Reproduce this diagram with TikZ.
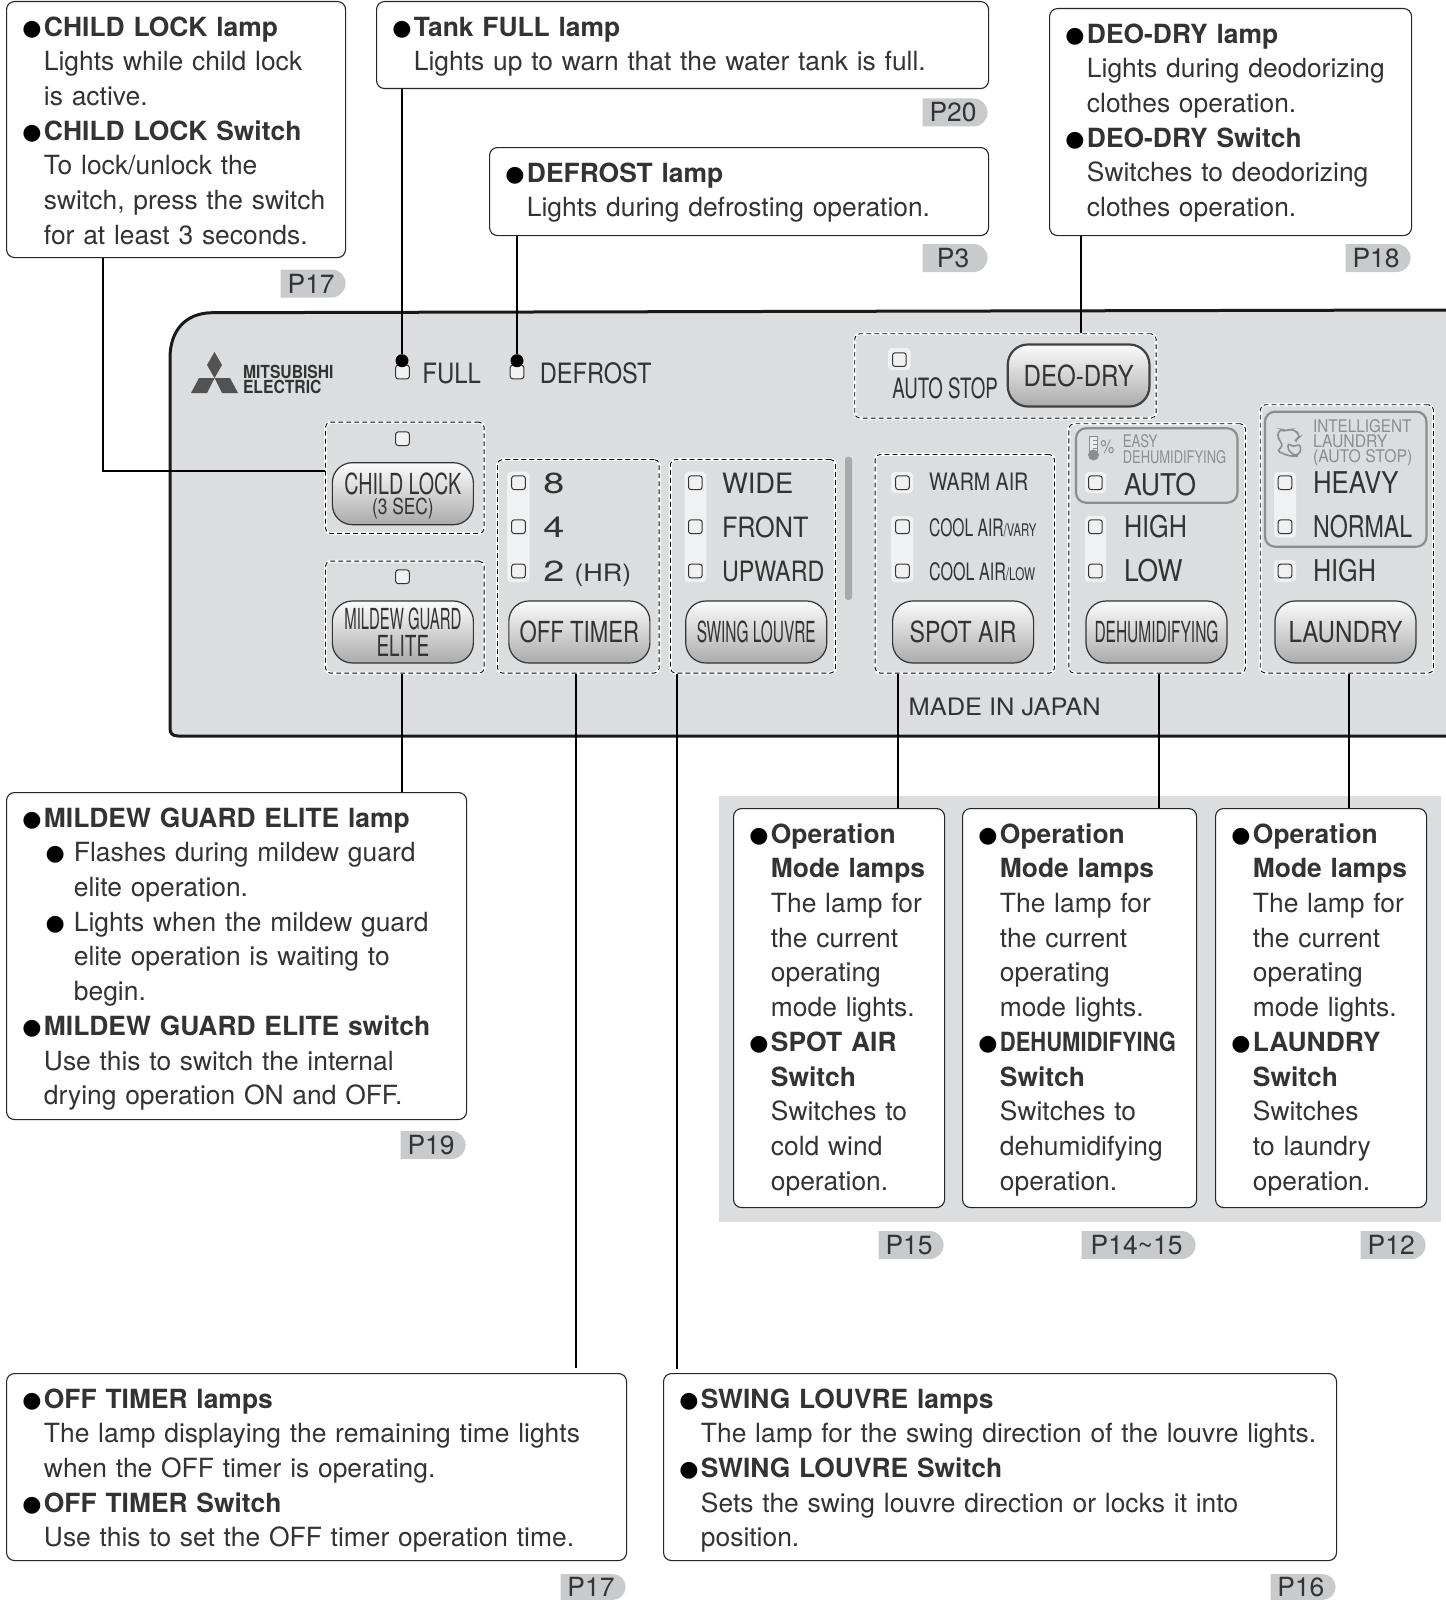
\documentclass[tikz,border=0pt]{standalone}
\usepackage{fontspec}
\setmainfont{TeX Gyre Heros}
\newfontfamily\symfont{DejaVu Sans}
\usetikzlibrary{shapes.misc}

\definecolor{panelgray}{HTML}{DCDDDE}
\definecolor{inktext}{HTML}{333333}
\definecolor{framegray}{HTML}{8C8D8F}
\definecolor{tabgray}{HTML}{C9CACC}
\definecolor{stripgray}{HTML}{F0F1F2}
\definecolor{bargray}{HTML}{A8A9AB}

\newcommand{\callfont}{\fontsize{13.2pt}{17.35pt}\selectfont}
\newcommand{\sizedfont}[1]{\fontsize{#1pt}{#1pt}\selectfont}
\newcommand{\fitw}[2]{\resizebox{\dimexpr#1pt/2\relax}{\height}{#2}}
\newcommand{\blob}{{\fontsize{11pt}{11pt}\symfont\raisebox{.5pt}{\textcolor{black}{●}}}}
\newcommand{\headitem}[1]{\leavevmode\llap{\blob\kern1.2pt}\textbf{#1}}
\newcommand{\subpoint}{\hspace*{15pt}\llap{\blob\kern4.6pt}}
\newcommand{\subcont}{\hspace*{15pt}}

\begin{document}
\begin{tikzpicture}[x=.5pt,y=-.5pt,
            callout/.style 2 args={draw=black!85,fill=white,rounded corners=4pt,line width=.55pt,
                anchor=north west,inner xsep=0pt,inner ysep=0pt,align=left,text=inktext,
                text width=#1*.5pt,text height=17.3pt,text depth=#2*.5pt-17.3pt,font=\callfont,
                execute at begin node={\leftskip=18.7pt\relax}},
            pagetab/.style={rounded rectangle,rounded rectangle left arc=none,fill=tabgray,
                text=inktext,inner sep=0pt,minimum height=14pt,minimum width=32.5pt,
                anchor=east,font=\callfont},
            groupbox/.style 2 args={draw=black,dash pattern=on 2.4pt off 1.6pt,line width=.45pt,
                rounded corners=2.5pt,anchor=north west,inner sep=0pt,
                minimum width=#1*.5pt,minimum height=#2*.5pt,
                preaction={draw=white,solid,line width=1.4pt}},
            button/.style={draw=black!80,line width=.6pt,rounded corners=10pt,inner sep=0pt,
                top color=white!90!panelgray,bottom color=black!33,align=center,text=inktext,
                minimum width=70.5pt,minimum height=31pt,font=\sizedfont{14.5}},
            led/.style={draw=inktext,fill=panelgray!40,line width=.5pt,rounded corners=1.2pt,
                inner sep=0pt,minimum width=6.8pt,minimum height=6.8pt},
            strip/.style={fill=stripgray,rounded corners=2pt},
            frame/.style={draw=framegray,line width=1.1pt,rounded corners=5pt},
            caption/.style={anchor=base west,inner sep=0pt,text=inktext,font=\sizedfont{14}},
            faint/.style={anchor=base west,inner sep=0pt,text=framegray,font=\sizedfont{8.7}},
            leader/.style={draw=black,line width=.55pt,preaction={draw=white,line width=1.4pt}}]
    \useasboundingbox (0,0) rectangle (1445,1600);

    % panel and the band behind the mode boxes
    \draw[fill=panelgray,draw=black!90,line width=1.5pt] (1447,310) -- (212,312.7)
        .. controls (186,313) and (170,330) .. (170,358) -- (170,728)
        .. controls (170,733) and (172,736) .. (178,736) -- (1447,736);
    \fill[panelgray] (719,796) rectangle (1441,1221.5);
    \fill[rounded corners=1.5pt,bargray] (845,456.7) rectangle (852,600);

    % logo
    \fill[inktext!85] (214.5,352) -- (222,365) -- (214.5,378) -- (207,365) -- cycle;
    \fill[inktext!85] (214.5,378) -- (199,378) -- (191,393) -- (207,393) -- cycle;
    \fill[inktext!85] (214.5,378) -- (230,378) -- (238,393) -- (222,393) -- cycle;
    \node[caption,font=\sizedfont{9}\bfseries] (logotop) at (242.6,378) {\fitw{90.5}{MITSUBISHI}};
    \node[caption,font=\sizedfont{9}\bfseries] (logobot) at (242.6,393) {\fitw{78.5}{ELECTRIC}};

    % light patches under the lamps
    \fill[strip] (507,471.7) rectangle (529.6,582);
    \fill[strip] (684.5,471.7) rectangle (706.4,582);
    \fill[strip] (888,348) rectangle (910.6,370);
    \fill[strip] (891,472) rectangle (913.3,493);
    \fill[strip] (891,516) rectangle (913.3,582);
    \fill[strip] (1085,472) rectangle (1106.2,493);
    \fill[strip] (1085,516) rectangle (1106.2,582);
    \fill[strip] (1274,472) rectangle (1296,537.7);
    \fill[strip] (1274,560) rectangle (1296,582);

    % dashed groups
    \node[groupbox={158.7}{111.3}] (childgroup) at (325,421.7) {};
    \node[groupbox={158.7}{112}] (mildewgroup) at (325,560.7) {};
    \node[groupbox={161.7}{213.7}] (timergroup) at (497,459) {};
    \node[groupbox={165}{213.7}] (louvregroup) at (670,459) {};
    \node[groupbox={301.3}{84.4}] (deogroup) at (854.3,333.3) {};
    \node[groupbox={179.3}{218.7}] (spotgroup) at (874.7,454) {};
    \node[groupbox={176.6}{249.4}] (dehumgroup) at (1068.4,423.3) {};
    \node[groupbox={173.2}{268.4}] (laundrygroup) at (1259.8,404.3) {};

    % grey frames
    \draw[frame] (1076,428.3) rectangle (1237.4,502.7);
    \draw[frame] (1265,411.7) rectangle (1426.4,546.7);

    % lamps
    \node[led] (fulllamp) at (402.5,372) {};
    \node[led] (defrostlamp) at (517,372) {};
    \node[led] (childlamp) at (402.5,438.7) {};
    \node[led] (mildewlamp) at (402.5,576.7) {};
    \node[led] (deolamp) at (899.4,359.6) {};
    \foreach \i/\y in {1/482.7,2/526.7,3/571}{
        \node[led] (timer\i) at (518.5,\y) {};
        \node[led] (louvre\i) at (695.3,\y) {};
        \node[led] (spot\i) at (902.5,\y) {};
        \node[led] (dehum\i) at (1095.4,\y) {};
        \node[led] (laundry\i) at (1285,\y) {};
    }
    \node[circle,fill=black,inner sep=0pt,minimum size=6.5pt] (fulldot) at (402,360.7) {};
    \node[circle,fill=black,inner sep=0pt,minimum size=6.5pt] (defrostdot) at (517,360.7) {};

    % panel captions
    \node[caption] (fullcap) at (422,383) {\fitw{58.5}{FULL}};
    \node[caption] (defrostcap) at (539.5,383) {\fitw{111.6}{DEFROST}};
    \node[caption,font=\sizedfont{14.5}] (hr8) at (543,493) {\fitw{21}{8}};
    \node[caption,font=\sizedfont{14.5}] (hr4) at (543,537) {\fitw{21}{4}};
    \node[caption,font=\sizedfont{14.5}] (hr2) at (543,581) {\fitw{21}{2}};
    \node[caption,font=\sizedfont{12}] (hrunit) at (574,581) {\fitw{57}{(HR)}};
    \node[caption] (widecap) at (721.6,493) {\fitw{71.4}{WIDE}};
    \node[caption] (frontcap) at (721.6,537) {\fitw{86.4}{FRONT}};
    \node[caption] (upcap) at (721.6,581) {\fitw{102.4}{UPWARD}};
    \node[caption] (autostop) at (892,398) {\fitw{105.4}{AUTO STOP}};
    \node[caption,font=\sizedfont{12}] (warmcap) at (928.7,490.7) {\fitw{99.3}{WARM AIR}};
    \node[caption,font=\sizedfont{12}] (varycap) at (928.7,536) {\fitw{107.3}{COOL AIR{\sizedfont{8.7}/VARY}}};
    \node[caption,font=\sizedfont{12}] (lowcap) at (928.7,580.7) {\fitw{106}{COOL AIR{\sizedfont{8.7}/LOW}}};
    \node[caption,font=\sizedfont{15}] (autocap) at (1123.6,495) {\fitw{72}{AUTO}};
    \node[caption,font=\sizedfont{15}] (highcap) at (1123.6,537) {\fitw{63}{HIGH}};
    \node[caption,font=\sizedfont{15}] (lowrate) at (1123.6,581) {\fitw{58.5}{LOW}};
    \node[caption,font=\sizedfont{15}] (heavycap) at (1312.6,493) {\fitw{85.4}{HEAVY}};
    \node[caption,font=\sizedfont{15}] (normalcap) at (1312.6,537) {\fitw{99.2}{NORMAL}};
    \node[caption,font=\sizedfont{15}] (highlaundry) at (1312.6,581) {\fitw{63}{HIGH}};
    \node[caption,font=\sizedfont{12}] (madein) at (908.3,715) {\fitw{192}{MADE IN JAPAN}};
    \node[faint] (easycap) at (1122.4,447.7) {\fitw{34.6}{EASY}};
    \node[faint] (easydehum) at (1122.4,463) {\fitw{103.4}{DEHUMIDIFYING}};
    \node[faint] (intelcap) at (1312.6,432) {\fitw{98.4}{INTELLIGENT}};
    \node[faint] (laundrycap) at (1312.6,447.5) {\fitw{74.4}{LAUNDRY}};
    \node[faint] (autostopcap) at (1312.6,462.5) {\fitw{99.4}{(AUTO STOP)}};
    \node[faint,font=\sizedfont{9.5}] (percent) at (1100,453) {\fitw{14}{\%}};

    % thermometer and shirt
    \draw[framegray,line width=.5pt,fill=white!40!panelgray] (1089.5,436) rectangle (1097.5,452);
    \draw[framegray,line width=.4pt] (1093,440) -- (1097,440) (1093,444) -- (1097,444) (1093,448) -- (1097,448);
    \fill[framegray] (1093.5,455) circle (5.5);
    \draw[framegray,line width=.8pt,rounded corners=1.5pt] (1280,441) -- (1277,435) -- (1281,429)
        -- (1286,431) -- (1291,429) -- (1297,432) -- (1300,437) -- (1296,439) -- (1296,442)
        (1280,441) -- (1283,446) -- (1277,451) -- (1289,456) -- (1298,456)
        (1288,443) -- (1293,447) -- (1300,444) -- (1301,452) -- (1295,456) -- (1288,450) -- cycle;

    % buttons
    \node[button] (childbtn) at (402.85,493.7) {};
    \node[caption,anchor=base,font=\sizedfont{14.5}] (childcap) at (402.85,494) {\fitw{117}{CHILD LOCK}};
    \node[caption,anchor=base,font=\sizedfont{11}] (secondscap) at (402.85,514) {\fitw{61.6}{(3 SEC)}};
    \node[button] (mildewbtn) at (402.85,632) {\fitw{117}{MILDEW GUARD}\\[-1pt]\fitw{52.7}{ELITE}};
    \node[button] (timerbtn) at (579.35,632) {\fitw{119.6}{OFF TIMER}};
    \node[button] (louvrebtn) at (756.25,632) {\fitw{119}{SWING LOUVRE}};
    \node[button,draw=black!75,line width=1.1pt,minimum width=70.8pt] (deobtn) at (1078.6,375.5) {\fitw{110}{DEO-DRY}};
    \node[button] (spotbtn) at (963.1,632) {\fitw{107}{SPOT AIR}};
    \node[button] (dehumbtn) at (1156.5,632) {\fitw{124}{DEHUMIDIFYING}};
    \node[button] (laundrybtn) at (1345.5,632) {\fitw{114}{LAUNDRY}};

    % callouts
    \node[callout={339}{256}] (childbox) at (6,1) {\headitem{CHILD LOCK lamp}\\
        Lights while child lock\\
        is active.\\
        \headitem{CHILD LOCK Switch}\\
        To lock/unlock the\\
        switch, press the switch\\
        for at least 3 seconds.};
    \node[callout={612}{87}] (tankbox) at (376,1) {\headitem{Tank FULL lamp}\\
        Lights up to warn that the water tank is full.};
    \node[callout={499}{88}] (defrostbox) at (489,147) {\headitem{DEFROST lamp}\\
        Lights during defrosting operation.};
    \node[callout={362}{227}] (deobox) at (1049,8) {\headitem{DEO-DRY lamp}\\
        Lights during deodorizing\\
        clothes operation.\\
        \headitem{DEO-DRY Switch}\\
        Switches to deodorizing\\
        clothes operation.};
    \node[callout={460}{327}] (mildewbox) at (6,792) {\headitem{MILDEW GUARD ELITE lamp}\\
        \subpoint Flashes during mildew guard\\
        \subcont elite operation.\\
        \subpoint Lights when the mildew guard\\
        \subcont elite operation is waiting to\\
        \subcont begin.\\
        \headitem{MILDEW GUARD ELITE switch}\\
        Use this to switch the internal\\
        drying operation ON and OFF.};
    \node[callout={620}{187}] (timerbox) at (6,1373) {\headitem{OFF TIMER lamps}\\
        The lamp displaying the remaining time lights\\
        when the OFF timer is operating.\\
        \headitem{OFF TIMER Switch}\\
        Use this to set the OFF timer operation time.};
    \node[callout={673}{187}] (louvrebox) at (663,1373) {\headitem{SWING LOUVRE lamps}\\
        The lamp for the swing direction of the louvre lights.\\
        \headitem{SWING LOUVRE Switch}\\
        Sets the swing louvre direction or locks it into\\
        position.};
    \node[callout={211}{399}] (spotbox) at (733,808) {\headitem{Operation}\\
        \textbf{Mode lamps}\\
        The lamp for\\
        the current\\
        operating\\
        mode lights.\\
        \headitem{SPOT AIR}\\
        \textbf{Switch}\\
        Switches to\\
        cold wind\\
        operation.};
    \node[callout={234}{399}] (dehumbox) at (962,808) {\headitem{Operation}\\
        \textbf{Mode lamps}\\
        The lamp for\\
        the current\\
        operating\\
        mode lights.\\
        \headitem{\fitw{176}{DEHUMIDIFYING}}\\
        \textbf{Switch}\\
        Switches to\\
        dehumidifying\\
        operation.};
    \node[callout={211}{399}] (laundrybox) at (1215,808) {\headitem{Operation}\\
        \textbf{Mode lamps}\\
        The lamp for\\
        the current\\
        operating\\
        mode lights.\\
        \headitem{LAUNDRY}\\
        \textbf{Switch}\\
        Switches\\
        to laundry\\
        operation.};

    % page tabs
    \node[pagetab] (tabchild) at (346,283.5) {P17};
    \node[pagetab] (tabtank) at (988,112.5) {P20};
    \node[pagetab] (tabdefrost) at (988,258) {P3};
    \node[pagetab] (tabdeo) at (1411,258) {P18};
    \node[pagetab] (tabmildew) at (466,1145) {P19};
    \node[pagetab] (tabspot) at (944,1245) {P15};
    \node[pagetab,minimum width=57pt] (tabdehum) at (1196,1245) {P14\textasciitilde15};
    \node[pagetab] (tablaundry) at (1426,1245) {P12};
    \node[pagetab,minimum height=13pt] (tabtimer) at (626,1587) {P17};
    \node[pagetab,minimum height=13pt] (tablouvre) at (1336,1587) {P16};

    % leaders
    \coordinate (childbend) at (103,471);
    \coordinate (deotap) at (1081,300);
    \coordinate (mildewtap) at (402,700);
    \coordinate (timerend) at (576,1367.5);
    \coordinate (louvreend) at (677,1369);
    \coordinate (spottap) at (898,700);
    \coordinate (dehumtap) at (1159,700);
    \coordinate (laundrytap) at (1349,700);
    \draw[leader] (childbox.south -| childbend) -- (childbend) -- (childgroup.west |- childbend);
    \draw[leader] (tankbox.south -| fulldot) -- (fulldot);
    \draw[leader] (defrostbox.south -| defrostdot) -- (defrostdot);
    \draw[leader] (deobox.south -| deotap) -- (deogroup.north -| deotap);
    \draw[leader] (mildewgroup.south -| mildewtap) -- (mildewbox.north -| mildewtap);
    \draw[leader] (timergroup.south -| timerend) -- (timerend);
    \draw[leader] (louvregroup.south -| louvreend) -- (louvreend);
    \draw[leader] (spotgroup.south -| spottap) -- (spotbox.north -| spottap);
    \draw[leader] (dehumgroup.south -| dehumtap) -- (dehumbox.north -| dehumtap);
    \draw[leader] (laundrygroup.south -| laundrytap) -- (laundrybox.north -| laundrytap);
\end{tikzpicture}
\end{document}
